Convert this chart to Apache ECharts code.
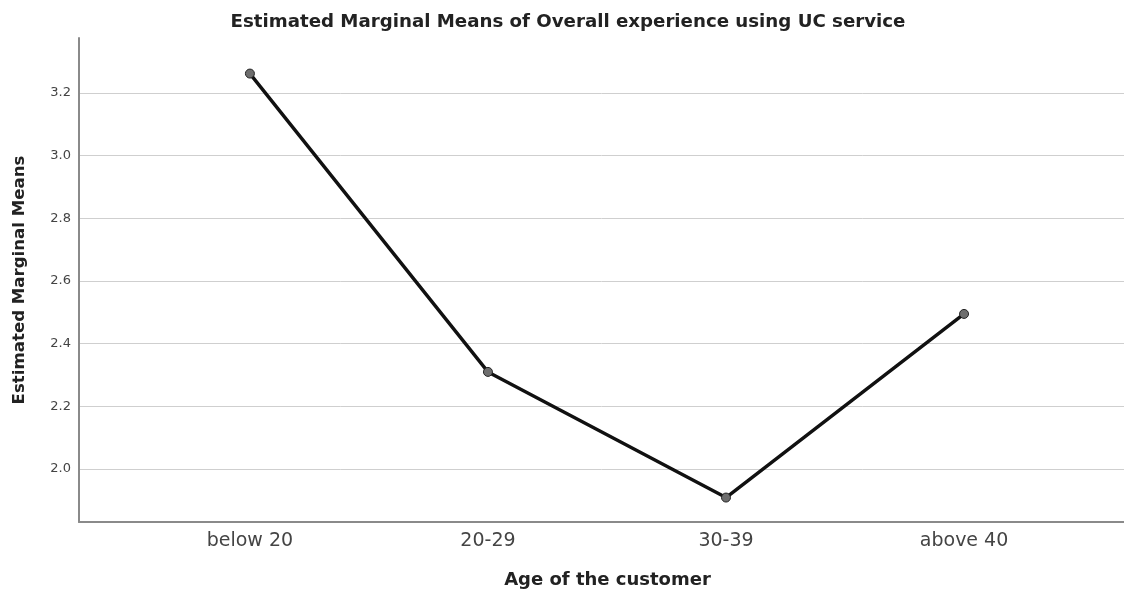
<!DOCTYPE html>
<html lang="en">
<head>
<meta charset="UTF-8">
<title>Estimated Marginal Means</title>
<script src="https://cdn.jsdelivr.net/npm/echarts@6/dist/echarts.min.js"></script>
<style>
  html, body { margin: 0; padding: 0; background: #fff; }
  #main { width: 1124px; height: 590px; }
</style>
</head>
<body>
<div id="main"></div>
<script>
    // data
    var ageGroups = ['below 20', '20-29', '30-39', 'above 40'];
    var meanValues = [3.262, 2.310, 1.909, 2.495];
    var yTicks = [2.0, 2.2, 2.4, 2.6, 2.8, 3.0, 3.2];

    var points = [];
    for (var i = 0; i < ageGroups.length; i++) {
        points.push([i, meanValues[i]]);
    }
    var catIdx = ageGroups.map(function (n, i) { return i; });

    var chart = echarts.init(document.getElementById('main'));
    var font = 'DejaVu Sans, Arial, sans-serif';

    var option = {
        animation: false,
        title: {
            text: 'Estimated Marginal Means of Overall experience using UC service',
            left: 563,
            textAlign: 'center',
            top: 8,
            textStyle: { fontFamily: font, fontSize: 18.2, fontWeight: 'bold', color: '#222' }
        },
        grid: { left: 79, right: 0, top: 38, bottom: 68, outerBoundsMode: 'none' },
        xAxis: {
            type: 'value',
            min: -0.718,
            max: 3.672,
            name: 'Age of the customer',
            nameLocation: 'middle',
            nameGap: 49,
            nameTextStyle: { fontFamily: font, fontSize: 18, fontWeight: 'bold', color: '#222', padding: [0, 0, 0, 12] },
            axisLine: { show: true, onZero: false, lineStyle: { color: '#8a8a8a', width: 2 } },
            axisTick: { show: false, customValues: catIdx },
            splitLine: { show: false },
            axisLabel: {
                customValues: catIdx,
                formatter: function (v) { return ageGroups[Math.round(v)]; },
                fontFamily: font, fontSize: 19, color: '#444', margin: 10
            }
        },
        yAxis: {
            type: 'value',
            min: 1.831,
            max: 3.3755,
            name: 'Estimated Marginal Means',
            nameLocation: 'middle',
            nameGap: 51,
            nameTextStyle: { fontFamily: font, fontSize: 16.6, fontWeight: 'bold', color: '#222' },
            axisLine: { show: true, onZero: false, lineStyle: { color: '#8a8a8a', width: 2 } },
            axisTick: { show: false, customValues: yTicks },
            axisLabel: {
                customValues: yTicks,
                formatter: function (v) { return v.toFixed(1); },
                fontFamily: font, fontSize: 13, color: '#444', margin: 8
            },
            splitLine: { show: true, lineStyle: { color: '#cfcfcf', width: 1 } }
        },
        series: [{
            type: 'line',
            data: points,
            symbol: 'circle',
            symbolSize: 9,
            lineStyle: { color: '#111', width: 3.4 },
            itemStyle: { color: '#6e6e6e', borderColor: '#222', borderWidth: 1 }
        }]
    };

    chart.setOption(option);
</script>
</body>
</html>
